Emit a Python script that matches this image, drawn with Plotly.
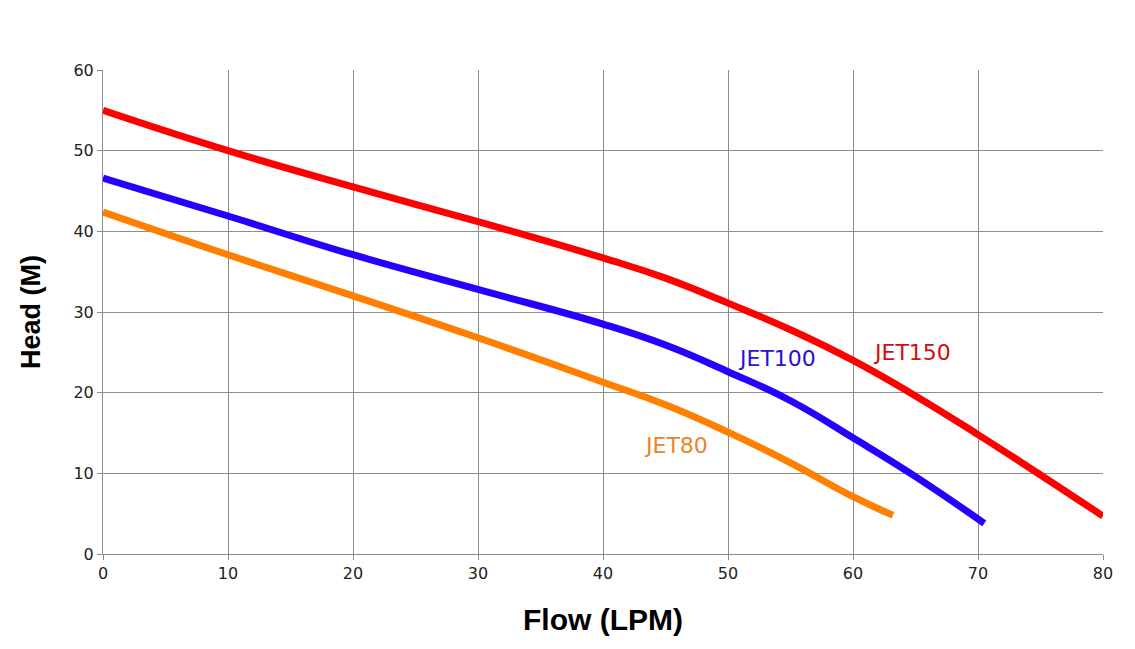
import plotly.graph_objects as go

flow_150 = [0, 10, 20, 30, 40, 45, 50, 55, 60, 65, 70, 75, 80]
head_150 = [55.0, 50.0, 45.5, 41.2, 36.7, 34.2, 31.1, 27.8, 24.0, 19.6, 14.8, 9.8, 4.7]

flow_100 = [0, 10, 20, 30, 40, 45, 50, 55, 60, 65, 70.5]
head_100 = [46.6, 41.9, 37.1, 32.8, 28.5, 25.9, 22.6, 19.0, 14.4, 9.6, 3.8]

flow_80 = [0, 10, 20, 30, 40, 45, 50, 55, 60, 63.2]
head_80 = [42.4, 37.1, 32.0, 26.8, 21.3, 18.5, 15.1, 11.3, 7.1, 4.8]

series = [
    ("JET150", flow_150, head_150, "#ff0000", 64.7, 25.0),
    ("JET100", flow_100, head_100, "#2400ff", 53.9, 24.2),
    ("JET80", flow_80, head_80, "#ff8000", 45.8, 13.5),
]
label_colors = {"JET150": "#cc1010", "JET100": "#2a10d0", "JET80": "#e8842a"}

fig = go.Figure()
for name, x, y, c, lx, ly in series:
    fig.add_trace(go.Scatter(x=x, y=y, mode="lines", name=name,
                             line=dict(color=c, width=7, shape="spline", smoothing=1.3)))
    fig.add_annotation(x=lx, y=ly, text=name, showarrow=False,
                       font=dict(size=22, color=label_colors[name], family="DejaVu Sans"))

axis_common = dict(showgrid=True, gridcolor="#8c8c8c", gridwidth=1, zeroline=False,
                   ticks="outside", ticklen=5, tickcolor="#8c8c8c",
                   tickfont=dict(size=16, color="#222", family="DejaVu Sans"),
                   showline=True, linecolor="#8c8c8c", linewidth=1)

fig.update_layout(
    width=1135, height=649,
    paper_bgcolor="white", plot_bgcolor="white",
    margin=dict(l=103, r=32, t=70, b=95),
    showlegend=False,
    xaxis=dict(range=[0, 80], dtick=10, mirror=False,
               title=dict(text="<b>Flow (LPM)</b>", font=dict(size=30, color="black", family="Liberation Sans"), standoff=26),
               **axis_common),
    yaxis=dict(range=[0, 60], dtick=10,
               title=dict(text="<b>Head (M)</b>", font=dict(size=27, color="black", family="Liberation Sans"), standoff=24),
               **axis_common),
)
fig.write_html("out.html")
